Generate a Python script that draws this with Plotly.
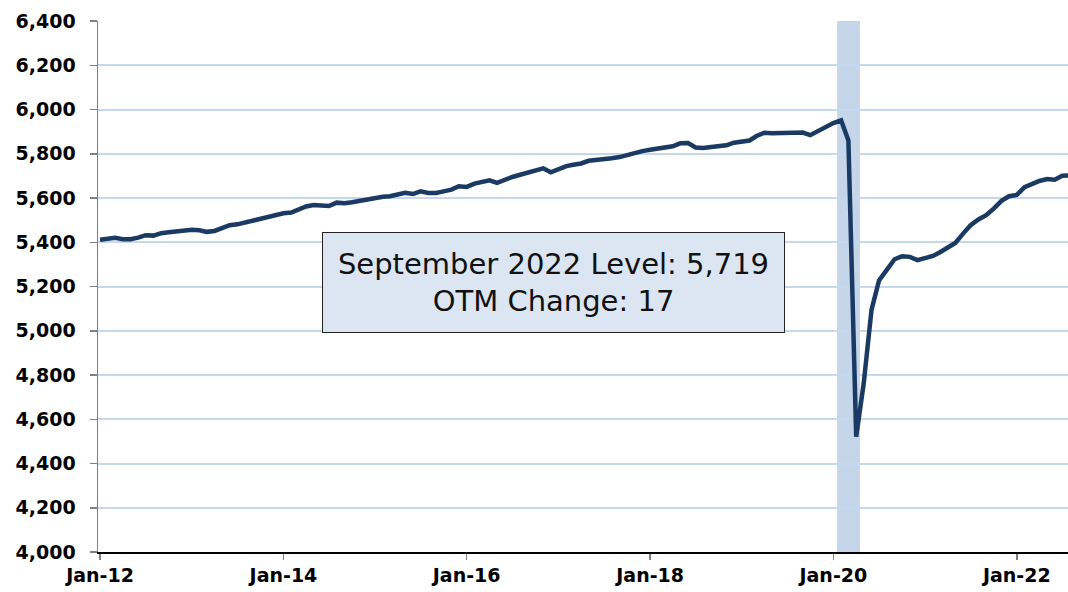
import pandas as pd
import plotly.graph_objects as go

# Monthly level (thousands), Jan 2012 - Sep 2022
values = [
    5411, 5414, 5420, 5414, 5414, 5421, 5432, 5430, 5441, 5445, 5448, 5451,  # 2012
    5457, 5454, 5447, 5451, 5466, 5477, 5481, 5490, 5499, 5507, 5513, 5524,  # 2013
    5531, 5534, 5549, 5562, 5568, 5567, 5564, 5579, 5576, 5581, 5588, 5593,  # 2014
    5600, 5606, 5608, 5614, 5624, 5618, 5630, 5623, 5623, 5630, 5638, 5653,  # 2015
    5650, 5665, 5674, 5680, 5668, 5683, 5695, 5705, 5716, 5723, 5734, 5716,  # 2016
    5732, 5744, 5750, 5756, 5768, 5771, 5777, 5780, 5785, 5795, 5807, 5812,  # 2017
    5818, 5822, 5825, 5834, 5847, 5848, 5828, 5826, 5830, 5836, 5838, 5850,  # 2018
    5856, 5860, 5880, 5895, 5893, 5895, 5896, 5896, 5896, 5884, 5904, 5920,  # 2019
    5939, 5951, 5860, 4521, 4762, 5094, 5227, 5275, 5323, 5337, 5334, 5319,  # 2020
    5328, 5338, 5355, 5379, 5397, 5439, 5477, 5503, 5522, 5552, 5587, 5608,  # 2021
    5614, 5649, 5665, 5677, 5686, 5683, 5701, 5702, 5719,                    # 2022
]
start_month = "2012-01-01"
dates = pd.date_range(start_month, periods=len(values), freq="MS")

recession_start = "2020-01-16"
recession_end = "2020-04-16"

annotation_lines = ["September 2022 Level: 5,719", "OTM Change: 17"]

y_ticks = list(range(4000, 6401, 200))

W, H = 1068, 592
ML, MR, MT, MB = 98, 0, 21, 40
PW, PH = W - ML - MR, H - MT - MB

fig = go.Figure()
fig.add_trace(go.Scatter(
    x=dates, y=values, mode="lines",
    line=dict(color="#1b3a63", width=4.5),
    hoverinfo="skip", showlegend=False,
))

fig.add_shape(type="rect", xref="x", yref="paper",
              x0=recession_start, x1=recession_end, y0=0, y1=1,
              fillcolor="#c5d6ea", line=dict(width=0), layer="below")

# annotation box position in pixels
bx0, bx1, by0, by1 = 322, 785, 232, 333
fig.add_annotation(
    xref="paper", yref="paper",
    x=((bx0 + bx1) / 2 - ML) / PW, y=1 - ((by0 + by1) / 2 - MT) / PH,
    xanchor="center", yanchor="middle",
    text="<br>".join(annotation_lines),
    showarrow=False,
    font=dict(family="DejaVu Sans", size=29, color="#111111"),
    align="center",
    bgcolor="#dce6f2", bordercolor="#222222", borderwidth=1, borderpad=0,
    width=bx1 - bx0 - 2, height=by1 - by0 - 2,
)

fig.update_layout(
    width=W, height=H,
    margin=dict(l=ML, r=MR, t=MT, b=MB),
    paper_bgcolor="white", plot_bgcolor="white",
    font=dict(family="DejaVu Sans", color="black"),
    xaxis=dict(
        type="date",
        range=["2011-12-24", "2022-07-24"],
        tick0=start_month, dtick="M24", tickformat="%b-%y",
        showgrid=False, showline=True, linecolor="black", linewidth=1.5,
        ticks="outside", ticklen=6, tickcolor="#808080", tickwidth=1.5,
        tickfont=dict(family="DejaVu Sans", size=19, color="black", weight="bold"),
        zeroline=False,
    ),
    yaxis=dict(
        range=[4000, 6400], tickvals=y_ticks, tickformat=",",
        showgrid=True, gridcolor="#c5d8f0", gridwidth=2,
        showline=True, linecolor="#808080", linewidth=1.5,
        ticks="outside", ticklen=7, tickcolor="#808080", tickwidth=1.5,
        ticklabelstandoff=10,
        tickfont=dict(family="DejaVu Sans", size=19, color="black", weight="bold"),
        zeroline=False,
    ),
)

fig.write_html(
    "out.html",
    config={"displayModeBar": False, "staticPlot": True},
    post_script="document.body.style.margin='0';document.body.style.overflow='hidden';",
)
